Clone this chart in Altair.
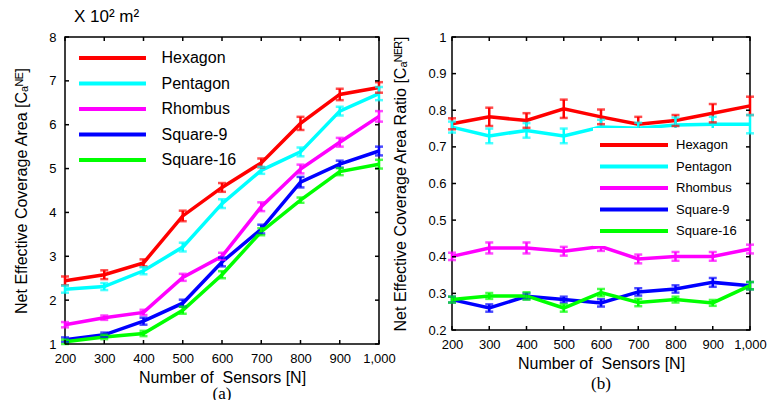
import altair as alt
import pandas as pd

sensors = [200, 300, 400, 500, 600, 700, 800, 900, 1000]
series = ["Hexagon", "Pentagon", "Rhombus", "Square-9", "Square-16"]
colors = ["#ff0000", "#00ffff", "#ff00ff", "#0000ff", "#00ff00"]

# (a) Net effective coverage area (x 10^2 m^2)
area_hexagon = [2.44, 2.58, 2.85, 3.92, 4.57, 5.13, 6.03, 6.69, 6.85]
area_pentagon = [2.25, 2.31, 2.67, 3.21, 4.20, 4.96, 5.38, 6.31, 6.71]
area_rhombus = [1.44, 1.60, 1.72, 2.52, 3.00, 4.13, 4.99, 5.60, 6.19]
area_square9 = [1.10, 1.21, 1.52, 1.93, 2.87, 3.62, 4.69, 5.10, 5.40]
area_square16 = [1.05, 1.16, 1.24, 1.77, 2.58, 3.56, 4.28, 4.93, 5.10]
area_err_hexagon = [0.10, 0.10, 0.08, 0.12, 0.10, 0.10, 0.15, 0.13, 0.12]
area_err_pentagon = [0.08, 0.08, 0.08, 0.10, 0.10, 0.08, 0.10, 0.10, 0.15]
area_err_rhombus = [0.06, 0.05, 0.06, 0.08, 0.08, 0.10, 0.10, 0.10, 0.12]
area_err_square9 = [0.05, 0.05, 0.08, 0.08, 0.10, 0.10, 0.12, 0.08, 0.10]
area_err_square16 = [0.05, 0.05, 0.06, 0.08, 0.08, 0.08, 0.06, 0.08, 0.10]

# (b) Net effective coverage area ratio
ratio_hexagon = [0.763, 0.782, 0.772, 0.804, 0.782, 0.762, 0.772, 0.792, 0.812]
ratio_pentagon = [0.754, 0.730, 0.745, 0.730, 0.754, 0.751, 0.760, 0.762, 0.762]
ratio_rhombus = [0.401, 0.424, 0.424, 0.415, 0.428, 0.394, 0.401, 0.401, 0.421]
ratio_square9 = [0.283, 0.260, 0.292, 0.283, 0.274, 0.304, 0.312, 0.330, 0.321]
ratio_square16 = [0.283, 0.293, 0.293, 0.260, 0.302, 0.275, 0.283, 0.274, 0.321]
ratio_err_hexagon = [0.015, 0.025, 0.020, 0.025, 0.020, 0.020, 0.015, 0.025, 0.025]
ratio_err_pentagon = [0.015, 0.020, 0.020, 0.020, 0.020, 0.015, 0.020, 0.020, 0.025]
ratio_err_rhombus = [0.010, 0.015, 0.015, 0.012, 0.012, 0.012, 0.012, 0.012, 0.012]
ratio_err_square9 = [0.008, 0.010, 0.008, 0.008, 0.010, 0.010, 0.010, 0.012, 0.010]
ratio_err_square16 = [0.008, 0.008, 0.010, 0.010, 0.010, 0.010, 0.008, 0.008, 0.010]

x_ticks = [200, 300, 400, 500, 600, 700, 800, 900, 1000]
area_ticks = [1, 2, 3, 4, 5, 6, 7, 8]
ratio_ticks = [0.2, 0.3, 0.4, 0.5, 0.6, 0.7, 0.8, 0.9, 1.0]

FONT = "Liberation Sans"


def long_df(vals, errs):
    rows = []
    for s, v, e in zip(series, vals, errs):
        for x, yv, ev in zip(sensors, v, e):
            rows.append({"N": x, "series": s, "v": yv, "lo": yv - ev, "hi": yv + ev})
    return pd.DataFrame(rows)


df_a = long_df([area_hexagon, area_pentagon, area_rhombus, area_square9, area_square16],
               [area_err_hexagon, area_err_pentagon, area_err_rhombus, area_err_square9, area_err_square16])
df_b = long_df([ratio_hexagon, ratio_pentagon, ratio_rhombus, ratio_square9, ratio_square16],
               [ratio_err_hexagon, ratio_err_pentagon, ratio_err_rhombus, ratio_err_square9, ratio_err_square16])


def panel(df, W, H, ydom, yticks, yfmt, ytitle, legend, y_label_pad, y_title_pad):
    xs = alt.Scale(domain=[200, 1000], nice=False, zero=False)
    ys = alt.Scale(domain=ydom, nice=False, zero=False)
    xaxis = alt.Axis(values=x_ticks, format=",d", title="Number of\u00a0 Sensors [N]",
                     labelPadding=8, titlePadding=4, labelFlush=False, labelOverlap=False)
    yaxis = alt.Axis(values=yticks, format=yfmt, title=ytitle, labelOverlap=False,
                     labelPadding=y_label_pad, titlePadding=y_title_pad, labelFlush=False)
    cscale = alt.Scale(domain=series, range=colors)
    base = alt.Chart(df)
    X = lambda f: alt.X(f, scale=xs, axis=xaxis)
    Y = lambda f: alt.Y(f, scale=ys, axis=yaxis)
    line = base.mark_line(strokeWidth=3.5).encode(
        x=X("N:Q"), y=Y("v:Q"),
        color=alt.Color("series:N", scale=cscale, legend=legend, sort=series),
    )
    err = base.mark_rule(strokeWidth=2.5).encode(
        x=X("N:Q"), y=Y("lo:Q"), y2="hi:Q",
        color=alt.Color("series:N", scale=cscale, legend=None, sort=series),
    )
    cap_lo = base.mark_tick(thickness=2.5, size=8, orient="horizontal").encode(
        x=X("N:Q"), y=Y("lo:Q"),
        color=alt.Color("series:N", scale=cscale, legend=None, sort=series),
    )
    cap_hi = base.mark_tick(thickness=2.5, size=8, orient="horizontal").encode(
        x=X("N:Q"), y=Y("hi:Q"),
        color=alt.Color("series:N", scale=cscale, legend=None, sort=series),
    )
    xt = alt.Chart(pd.DataFrame({"t": x_ticks}))
    yt = alt.Chart(pd.DataFrame({"t": yticks}))
    tick_style = dict(color="black", strokeWidth=1.5)
    xt_b = xt.mark_rule(**tick_style).encode(x=X("t:Q"), y=alt.value(H), y2=alt.value(H - 4))
    xt_t = xt.mark_rule(**tick_style).encode(x=X("t:Q"), y=alt.value(0), y2=alt.value(4))
    yt_l = yt.mark_rule(**tick_style).encode(y=Y("t:Q"), x=alt.value(0), x2=alt.value(4))
    yt_r = yt.mark_rule(**tick_style).encode(y=Y("t:Q"), x=alt.value(W), x2=alt.value(W - 4))
    return [line, err, cap_lo, cap_hi, xt_b, xt_t, yt_l, yt_r]


legend_a = alt.Legend(title=None, orient="none", legendX=4, legendY=10,
                      symbolType="M-3.72,0L3.72,0", symbolSize=324, symbolStrokeWidth=4,
                      symbolOffset=32.5, labelOffset=38, labelFontSize=16, labelFont=FONT,
                      labelColor="black", rowPadding=6.5, padding=0)
legend_b = alt.Legend(title=None, orient="none", legendX=141, legendY=91,
                      symbolType="M-4.25,0L4.25,0", symbolSize=256, symbolStrokeWidth=4,
                      symbolOffset=24, labelOffset=32, labelFontSize=13, labelFont=FONT,
                      labelColor="black", rowPadding=3.5, padding=7, fillColor="white")

WA, HA = 314, 307
WB, HB = 298, 293

layers_a = panel(df_a, WA, HA, [1, 8], area_ticks, "d",
                 "Net Effective Coverage Area [C\u2090\u1d3a\u1d31]", legend_a, 9, 19)
unit_text = alt.Chart(pd.DataFrame({"t": ["X 10\u00b2 m\u00b2"]})).mark_text(
    align="left", baseline="middle", fontSize=17, font=FONT, color="black"
).encode(x=alt.value(9), y=alt.value(-20), text="t:N")

chart_a = alt.layer(*layers_a, unit_text).properties(
    width=WA, height=HA,
    title=alt.TitleParams("(a)", orient="bottom", font="Liberation Serif", fontSize=17,
                          fontWeight="normal", color="black", offset=1),
)

layers_b = panel(df_b, WB, HB, [0.2, 1.0], ratio_ticks, ".1~f",
                 "Net Effective Coverage Area Ratio [C\u2090\u1d3a\u1d31\u1d3f]", legend_b, 6, 19)
chart_b = alt.layer(*layers_b).properties(
    width=WB, height=HB,
    title=alt.TitleParams("(b)", orient="bottom", font="Liberation Serif", fontSize=17,
                          fontWeight="normal", color="black", offset=5),
)

chart = alt.hconcat(chart_a, chart_b, spacing=73, bounds="flush").resolve_scale(
    color="independent"
).resolve_legend(color="independent").configure(
    padding={"left": 13, "top": 7, "right": 0, "bottom": 0}
).configure_view(
    stroke="black", strokeWidth=1.5
).configure_axis(
    domain=False, ticks=False, grid=False, labelOverlap=False, labelBound=False,
    labelFont=FONT, labelFontSize=13, labelColor="black",
    titleFont=FONT, titleFontSize=16, titleFontWeight="normal", titleColor="black",
)

chart.save("out.html", embed_options={"renderer": "svg", "actions": False})
